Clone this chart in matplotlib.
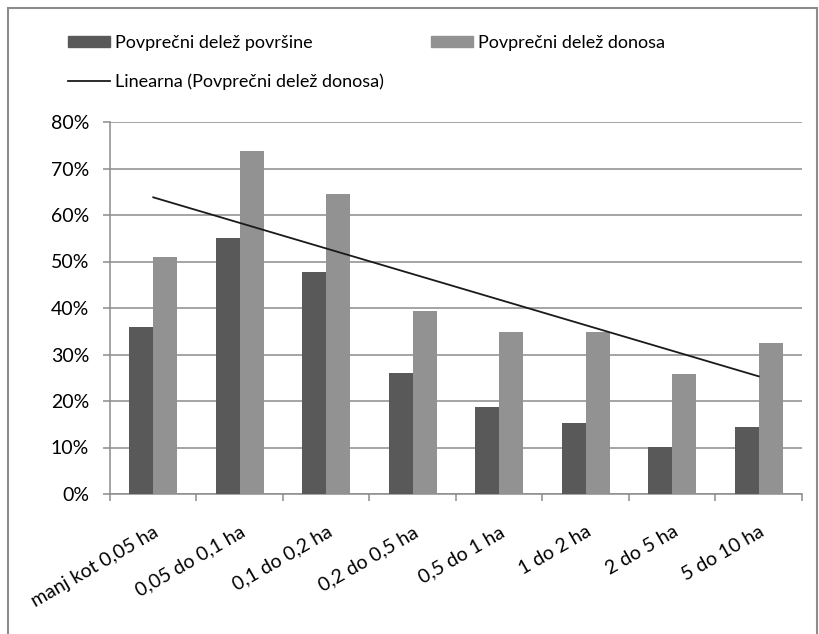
import numpy as np
import matplotlib
matplotlib.use("Agg")
import matplotlib.pyplot as plt
from matplotlib.patches import Patch
from matplotlib.lines import Line2D

# ---------------------------------------------
# DATA
# ---------------------------------------------

categories = [
    "manj kot 0,05 ha", "0,05 do 0,1 ha", "0,1 do 0,2 ha", "0,2 do 0,5 ha",
    "0,5 do 1 ha", "1 do 2 ha", "2 do 5 ha", "5 do 10 ha",
]
delez_povrsine = [0.36, 0.55, 0.478, 0.261, 0.187, 0.153, 0.101, 0.144]
delez_donosa = [0.509, 0.737, 0.645, 0.394, 0.348, 0.348, 0.258, 0.325]
y_ticks = [0.0, 0.1, 0.2, 0.3, 0.4, 0.5, 0.6, 0.7, 0.8]

dark = "#595959"
light = "#929292"
grid_col = "#8c8c8c"

plt.rcParams["font.family"] = ["Lato", "DejaVu Sans"]

fig = plt.figure(figsize=(8.2, 6.34), dpi=100)
W, H = 820, 634
ax = fig.add_axes([110 / W, 1 - 494 / H, (802 - 110) / W, (494 - 122) / H])

x = np.arange(len(categories))
w = 0.28
ax.bar(x - w / 2, delez_povrsine, w, color=dark, zorder=3)
ax.bar(x + w / 2, delez_donosa, w, color=light, zorder=3)

# linear trend of "delez donosa"
k, n = np.polyfit(x, delez_donosa, 1)
ax.plot(x, k * x + n, color="#1a1a1a", lw=1.3, zorder=4)

ax.set_xlim(-0.5, len(categories) - 0.5)
ax.set_ylim(0, 0.8)
ax.set_yticks(y_ticks)
ax.set_yticklabels([f"{int(round(v * 100))}%" for v in y_ticks], fontsize=14)
ax.yaxis.grid(True, color=grid_col, lw=1.1, zorder=0)

ax.set_xticks(x)
ax.set_xticklabels(categories, rotation=30, ha="right", va="top",
                   rotation_mode="anchor", fontsize=14)
ax.tick_params(axis="x", which="major", length=0, pad=21)
ax.set_xticks(np.arange(len(categories) + 1) - 0.5, minor=True)
ax.tick_params(axis="x", which="minor", length=5, color=grid_col, width=1.1)
ax.tick_params(axis="y", length=5, color=grid_col, width=1.1, pad=10)

for s in ["top", "right"]:
    ax.spines[s].set_visible(False)
for s in ["left", "bottom"]:
    ax.spines[s].set_color(grid_col)
    ax.spines[s].set_linewidth(1.1)

# legend
handles = [
    Patch(color=dark, label="Povprečni delež površine"),
    Line2D([], [], color="#1a1a1a", lw=1.3, label="Linearna (Povprečni delež donosa)"),
    Patch(color=light, label="Povprečni delež donosa"),
]
fig.legend(handles=handles, ncol=2, loc="upper left",
           bbox_to_anchor=(68 / W, 1 - 35 / H), frameon=False, fontsize=13,
           handlelength=2.35, handleheight=0.6, handletextpad=0.25,
           columnspacing=2.6, labelspacing=1.25, borderaxespad=0, borderpad=0)

# chart border
fig.patches.append(plt.Rectangle((8 / W, -0.05), (817 - 8) / W, 1.05 - 8 / H,
                                 transform=fig.transFigure, fill=False,
                                 edgecolor="#8c8c8c", lw=1.5))

fig.savefig("out.png", dpi=100)
